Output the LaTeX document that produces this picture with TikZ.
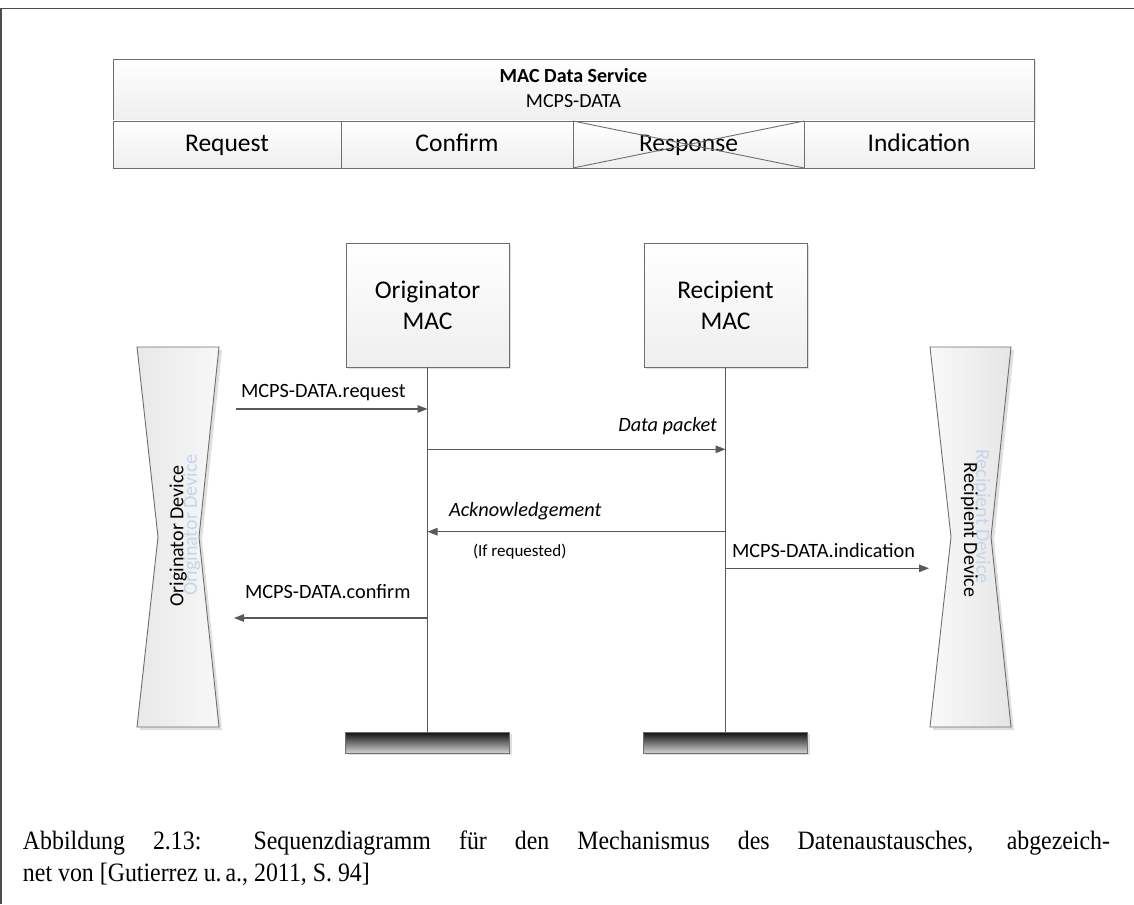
\documentclass[tikz,border=0pt]{standalone}
\usepackage{graphicx}
\usepackage{fontspec}
\setmainfont{Carlito}
\newfontfamily\capfont{Liberation Serif}
\usetikzlibrary{arrows.meta,shadows}
\definecolor{linec}{HTML}{595959}
\definecolor{edgec}{HTML}{6E6E6E}
\definecolor{ghost}{RGB}{196,214,236}

\begin{document}
\begin{tikzpicture}[x=1pt,y=-1pt,
  every node/.style={inner sep=0pt, outer sep=0pt},
  panel/.style={draw=edgec, line width=0.9pt, top color=white, bottom color=gray!13},
  cell/.style={panel, minimum height=47pt, font=\fontsize{25.5}{30}\selectfont,
    text height=18pt, text depth=3.6pt},
  lifebox/.style={panel, minimum width=163pt, minimum height=124pt, align=center,
    font=\fontsize{25.5}{31}\selectfont,
    drop shadow={shadow xshift=2pt,shadow yshift=-2pt,fill=gray!25,opacity=1}},
  endbar/.style={draw=edgec, line width=0.9pt, top color=gray!12!black, bottom color=gray!35,
    minimum width=164pt, minimum height=21pt,
    drop shadow={shadow xshift=2pt,shadow yshift=-2pt,fill=gray!25,opacity=1}},
  lifeline/.style={draw=linec, line width=1.3pt},
  msg/.style={draw=linec, line width=1.3pt, -{Triangle[length=10pt,width=7.5pt]}},
  lbl/.style={font=\fontsize{20.3}{24}\selectfont},
  devlbl/.style={font=\fontsize{20}{24}\selectfont},
  capline/.style={anchor=base west, font=\capfont\fontsize{26.5}{32}\selectfont}
]
\useasboundingbox (0,0) rectangle (1134,904);

% outer frame (top and left rules)
\draw[draw=gray!60!black, line width=1.5pt] (0,8.5) -- (1134,8.5);
\draw[draw=gray!60!black, line width=1.5pt] (1,8.5) -- (1,904);

% service table
\node[panel, minimum width=921pt, minimum height=62pt,
  drop shadow={shadow xshift=2pt,shadow yshift=-2pt,fill=gray!20,opacity=1}] (svc) at (573.5,90) {};
\node[lbl, anchor=base, font=\fontsize{20}{24}\selectfont\bfseries] (svcT) at (573.5,83) {MAC Data Service};
\node[lbl, anchor=base, font=\fontsize{20}{24}\selectfont] (svcS) at (573.5,108) {MCPS-DATA};
\node[cell, minimum width=228pt] (req) at (227,144.5) {Request};
\node[cell, minimum width=232pt] (conf) at (457,144.5) {Confirm};
\node[cell, minimum width=231pt] (resp) at (688.5,144.5) {Response};
\node[cell, minimum width=230pt] (ind) at (919,144.5) {Indication};
\draw[draw=edgec, line width=0.9pt] (resp.north west) -- (resp.south east)
  (resp.south west) -- (resp.north east);

% lifeline heads
\node[lifebox] (orig) at (427.5,305) {Originator\\MAC};
\node[lifebox] (reci) at (725.5,305) {Recipient\\MAC};

% lifeline ends
\node[endbar] (obar) at (427.5,742.5) {};
\node[endbar] (rbar) at (725.5,742.5) {};

\draw[lifeline] (orig.south) -- (obar.north);
\draw[lifeline] (reci.south) -- (rbar.north);

% devices (hourglass outlines)
\fill[gray!25] (140,350) -- (222,350) -- (202,540) -- (222,730) -- (140,730) -- (161,540) -- cycle;
\path[draw=edgec, line width=0.9pt, left color=gray!18, right color=gray!6]
  (137,347) -- (219,347) -- (199,537) -- (219,727) -- (137,727) -- (158,537) -- cycle;
\fill[gray!25] (933,350) -- (1014,350) -- (994,540) -- (1014,730) -- (933,730) -- (954,540) -- cycle;
\path[draw=edgec, line width=0.9pt, left color=gray!5, right color=gray!20]
  (930,347) -- (1011,347) -- (991,537) -- (1011,727) -- (930,727) -- (951,537) -- cycle;

\node[devlbl, rotate=90, text=ghost] (odevG) at (191.7,525) {Originator Device};
\node[devlbl, rotate=90] (odev) at (178.3,536) {Originator Device};
\node[devlbl, rotate=-90, text=ghost] (rdevG) at (981.7,516.5) {Recipient Device};
\node[devlbl, rotate=-90] (rdev) at (969.3,530) {Recipient Device};

% message anchor points
\coordinate (srcReq) at (236,409);
\coordinate (oReq) at (427.5,409);
\coordinate (oData) at (427.5,449.3);
\coordinate (rData) at (725.5,449.3);
\coordinate (rAck) at (725.5,531.7);
\coordinate (oAck) at (427.5,531.7);
\coordinate (rInd) at (725.5,568.3);
\coordinate (dstInd) at (929,568.3);
\coordinate (oConf) at (427.5,618);
\coordinate (dstConf) at (234,618);

% messages
\draw[msg] (srcReq) -- (oReq);
\draw[msg] (oData) -- (rData);
\draw[msg] (rAck) -- (oAck);
\draw[msg] (rInd) -- (dstInd);
\draw[msg] (oConf) -- (dstConf);

\node[lbl, anchor=base west] (lReq) at (241,397) {MCPS-DATA.request};
\node[lbl, anchor=base east] (lData) at (717,431) {\itshape Data packet};
\node[lbl, anchor=base west] (lAck) at (449,516) {\itshape Acknowledgement};
\node[anchor=base west, font=\fontsize{17}{20}\selectfont] (lIf) at (473,556) {(If requested)};
\node[lbl, anchor=base west] (lInd) at (732,557) {MCPS-DATA.indication};
\node[lbl, anchor=base west] (lConf) at (245,598) {MCPS-DATA.confirm};

% caption (justified first line, narrow serif)
\node[capline] (cap1) at (23,849)
  {\scalebox{0.9}[1]{\makebox[1207.8pt][s]{Abbildung 2.13: Sequenzdiagramm für den Mechanismus des Datenaustausches, abgezeich-}}};
\node[capline] (cap2) at (23,881)
  {\scalebox{0.9}[1]{net von [Gutierrez u.\,a., 2011, S.~94]}};
\end{tikzpicture}
\end{document}
